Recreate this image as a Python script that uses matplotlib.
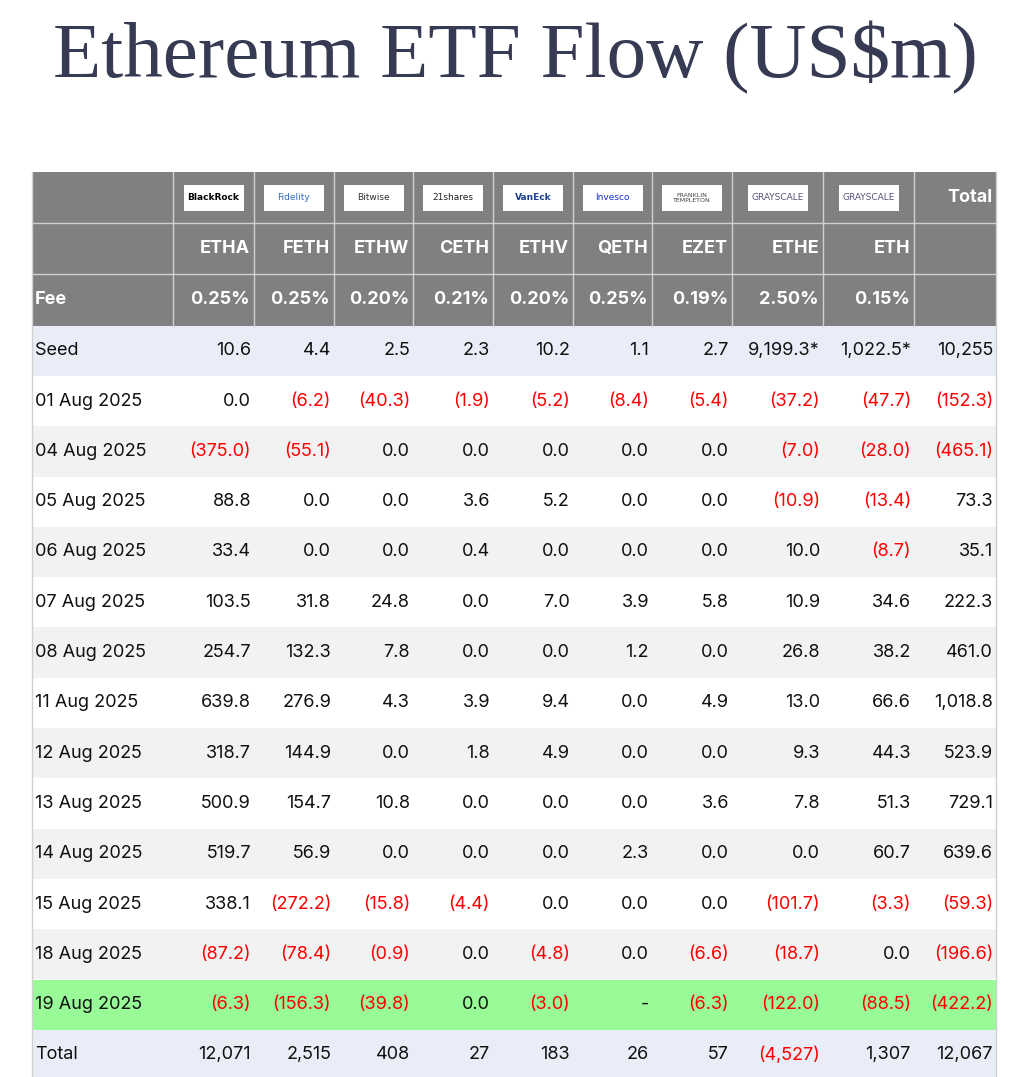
import matplotlib
matplotlib.use("Agg")
import matplotlib.pyplot as plt
from matplotlib.patches import Rectangle

issuers = ["BlackRock", "Fidelity", "Bitwise", "21shares", "VanEck", "Invesco", "FRANKLIN\nTEMPLETON", "GRAYSCALE", "GRAYSCALE"]
tickers = ["ETHA", "FETH", "ETHW", "CETH", "ETHV", "QETH", "EZET", "ETHE", "ETH"]
fees = ["0.25%", "0.25%", "0.20%", "0.21%", "0.20%", "0.25%", "0.19%", "2.50%", "0.15%"]
row_labels = ["Seed", "01 Aug 2025", "04 Aug 2025", "05 Aug 2025", "06 Aug 2025", "07 Aug 2025",
              "08 Aug 2025", "11 Aug 2025", "12 Aug 2025", "13 Aug 2025", "14 Aug 2025",
              "15 Aug 2025", "18 Aug 2025", "19 Aug 2025", "Total"]
values = [
    ["10.6", "4.4", "2.5", "2.3", "10.2", "1.1", "2.7", "9,199.3*", "1,022.5*", "10,255"],
    ["0.0", "(6.2)", "(40.3)", "(1.9)", "(5.2)", "(8.4)", "(5.4)", "(37.2)", "(47.7)", "(152.3)"],
    ["(375.0)", "(55.1)", "0.0", "0.0", "0.0", "0.0", "0.0", "(7.0)", "(28.0)", "(465.1)"],
    ["88.8", "0.0", "0.0", "3.6", "5.2", "0.0", "0.0", "(10.9)", "(13.4)", "73.3"],
    ["33.4", "0.0", "0.0", "0.4", "0.0", "0.0", "0.0", "10.0", "(8.7)", "35.1"],
    ["103.5", "31.8", "24.8", "0.0", "7.0", "3.9", "5.8", "10.9", "34.6", "222.3"],
    ["254.7", "132.3", "7.8", "0.0", "0.0", "1.2", "0.0", "26.8", "38.2", "461.0"],
    ["639.8", "276.9", "4.3", "3.9", "9.4", "0.0", "4.9", "13.0", "66.6", "1,018.8"],
    ["318.7", "144.9", "0.0", "1.8", "4.9", "0.0", "0.0", "9.3", "44.3", "523.9"],
    ["500.9", "154.7", "10.8", "0.0", "0.0", "0.0", "3.6", "7.8", "51.3", "729.1"],
    ["519.7", "56.9", "0.0", "0.0", "0.0", "2.3", "0.0", "0.0", "60.7", "639.6"],
    ["338.1", "(272.2)", "(15.8)", "(4.4)", "0.0", "0.0", "0.0", "(101.7)", "(3.3)", "(59.3)"],
    ["(87.2)", "(78.4)", "(0.9)", "0.0", "(4.8)", "0.0", "(6.6)", "(18.7)", "0.0", "(196.6)"],
    ["(6.3)", "(156.3)", "(39.8)", "0.0", "(3.0)", "-", "(6.3)", "(122.0)", "(88.5)", "(422.2)"],
    ["12,071", "2,515", "408", "27", "183", "26", "57", "(4,527)", "1,307", "12,067"],
]

W, H = 1025, 1077
fig = plt.figure(figsize=(W / 100, H / 100), dpi=100)
ax = fig.add_axes([0, 0, 1, 1])
ax.set_xlim(0, W)
ax.set_ylim(H, 0)
ax.axis("off")

FONT = "Inter"
xb = [32, 173, 254, 334, 413, 493, 573, 652, 732, 823, 914, 996]
top = 172
hh = 51.2
rh = 50.3

ax.text(515, 58, "Ethereum ETF Flow (US$m)", ha="center", va="center",
        fontsize=57, family="Liberation Serif", color="#363a52")

grey = "#808080"
ax.add_patch(Rectangle((xb[0], top), xb[-1] - xb[0], 3 * hh, color=grey, lw=0))
logo_colors = ["black", "#2d6db4", "#333333", "#222222", "#1b3f8f", "#1a2fd6", "#444444", "#555577", "#555577"]
for j in range(9):
    cx = (xb[j + 1] + xb[j + 2]) / 2
    ax.add_patch(Rectangle((cx - 30, top + 13), 60, 26, facecolor="white", lw=0))
    ax.text(cx, top + 26, issuers[j], ha="center", va="center",
            fontsize=4.5 if "\n" in issuers[j] else 6.5, color=logo_colors[j],
            family="DejaVu Sans", fontweight="bold" if j in (0, 4) else "normal", linespacing=0.9)
    ax.text(xb[j + 2] - 4, top + hh * 1.5, tickers[j], ha="right", va="center",
            fontsize=13, family=FONT, color="white", fontweight="bold")
    ax.text(xb[j + 2] - 4, top + hh * 2.5, fees[j], ha="right", va="center",
            fontsize=13, family=FONT, color="white", fontweight="bold")
ax.text(xb[-1] - 3, top + hh * 0.5, "Total", ha="right", va="center",
        fontsize=13, family=FONT, color="white", fontweight="bold")
ax.text(xb[0] + 3, top + hh * 2.5, "Fee", ha="left", va="center",
        fontsize=13, family=FONT, color="white", fontweight="bold")
for x in xb[1:-1]:
    ax.plot([x, x], [top, top + 3 * hh], color="#d0d0d0", lw=1)
for k in (1, 2):
    ax.plot([xb[0], xb[-1]], [top + k * hh] * 2, color="#d0d0d0", lw=1)

y0 = top + 3 * hh
for i, lab in enumerate(row_labels):
    y = y0 + i * rh
    if i == 0 or i == len(row_labels) - 1:
        bg = "#e9edf7"
    elif lab.startswith("19 Aug"):
        bg = "#98fb98"
    elif i % 2 == 0:
        bg = "#f2f2f2"
    else:
        bg = "white"
    ax.add_patch(Rectangle((xb[0], y), xb[-1] - xb[0], rh, color=bg, lw=0))
    ax.text(xb[0] + 3, y + rh / 2, lab, ha="left", va="center", fontsize=13, family=FONT, color="#111111")
    for j, v in enumerate(values[i]):
        col = "#ff0000" if v.startswith("(") else "#111111"
        ax.text(xb[j + 2] - 3, y + rh / 2, v, ha="right", va="center", fontsize=13, family=FONT, color=col)

ax.plot([xb[0], xb[0]], [top, H], color="#d0d0d0", lw=1)
ax.plot([xb[-1], xb[-1]], [top, H], color="#d0d0d0", lw=1)

fig.savefig("out.png", dpi=100)
